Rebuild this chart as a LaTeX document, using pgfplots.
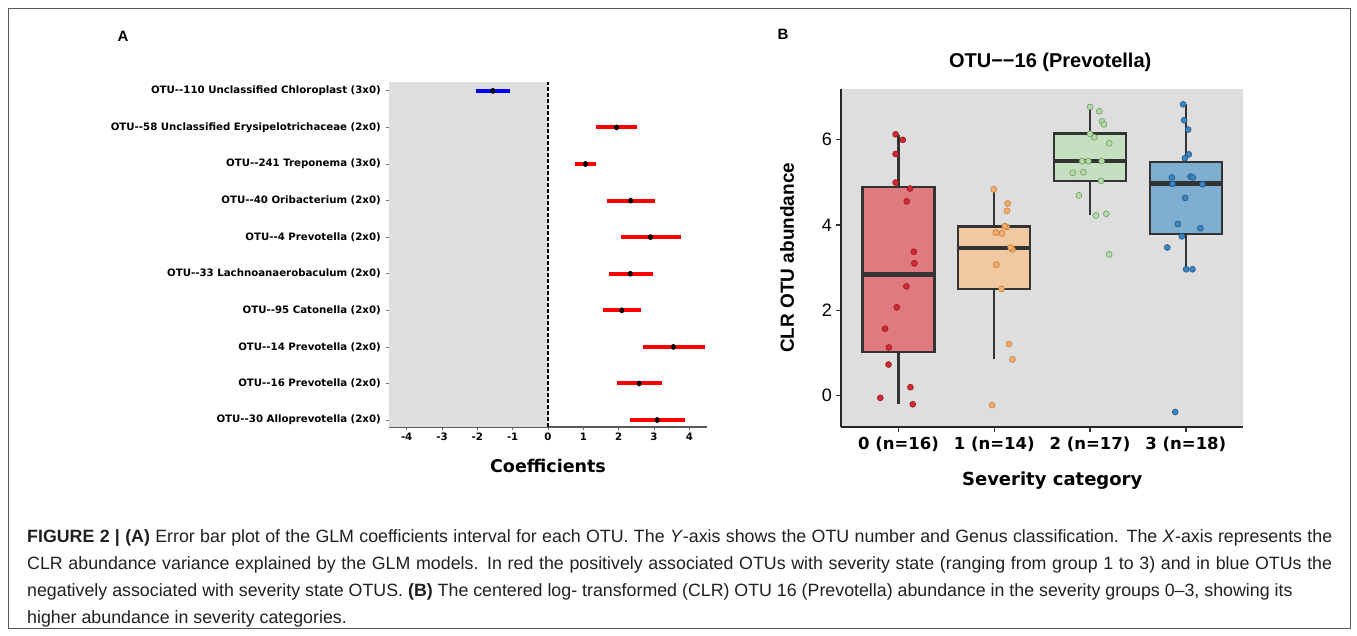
\documentclass[border=0pt]{standalone}
\usepackage{pgfplots}
\pgfplotsset{compat=1.18}
\usepgfplotslibrary{statistics}
\usepackage{pgfplotstable}
\usepackage{fontspec}
\setmainfont{Liberation Sans}
\newfontfamily\verd{DejaVu Sans}
\definecolor{panelgray}{RGB}{222,222,222}
\definecolor{boxline}{RGB}{51,51,51}
\definecolor{redbox}{RGB}{224,122,126}
\definecolor{orbox}{RGB}{240,201,161}
\definecolor{grbox}{RGB}{199,223,193}
\definecolor{blbox}{RGB}{127,175,208}
\definecolor{redpt}{RGB}{214,40,46}
\definecolor{redptd}{RGB}{130,25,30}
\definecolor{orpt}{RGB}{247,174,105}
\definecolor{orptd}{RGB}{185,115,55}
\definecolor{grpt}{RGB}{178,220,164}
\definecolor{grptd}{RGB}{105,145,95}
\definecolor{blpt}{RGB}{58,134,195}
\definecolor{blptd}{RGB}{28,78,125}
\definecolor{capcol}{RGB}{35,31,32}

% Panel A: GLM coefficient intervals (row index, centre, low, high)
\pgfplotstableread{
y mid lo hi
10 -1.56 -2.03 -1.08
}\blueA
\pgfplotstableread{
y mid lo hi
9 1.94 1.35 2.53
8 1.06 0.75 1.37
7 2.34 1.66 3.02
6 2.90 2.06 3.76
5 2.33 1.72 2.96
4 2.09 1.57 2.62
3 3.55 2.68 4.44
2 2.58 1.95 3.23
1 3.09 2.31 3.88
}\redA

% Panel B: jittered points
\pgfplotstableread{
x y
-0.030 6.12
0.045 5.99
-0.030 5.66
-0.030 4.99
0.120 4.85
0.086 4.55
0.160 3.37
0.166 3.10
0.083 2.56
-0.018 2.07
-0.140 1.57
-0.100 1.13
-0.104 0.73
0.125 0.20
-0.190 -0.05
0.149 -0.20
}\ptsZero
\pgfplotstableread{
x y
0.995 4.83
1.140 4.50
1.133 4.33
1.130 3.95
1.016 3.82
1.080 3.80
1.190 3.43
1.170 3.47
1.023 3.07
1.075 2.50
1.154 1.21
1.190 0.85
0.977 -0.22
1.110 3.97
}\ptsOne
\pgfplotstableread{
x y
2.000 6.76
2.097 6.66
2.125 6.42
2.146 6.35
2.000 6.13
2.045 6.05
2.200 5.91
1.917 5.49
1.982 5.49
2.122 5.49
1.820 5.22
1.930 5.23
2.114 5.03
1.883 4.69
2.062 4.22
2.170 4.26
2.200 3.31
}\ptsTwo
\pgfplotstableread{
x y
2.972 6.82
2.982 6.45
3.024 6.23
3.031 5.65
2.990 5.56
2.854 5.11
3.048 5.13
3.073 5.11
2.861 4.96
3.173 4.95
2.993 4.63
2.917 4.02
3.152 3.92
2.958 3.73
2.806 3.47
3.003 2.96
3.069 2.96
2.889 -0.38
}\ptsThree

\begin{document}
\begin{tikzpicture}[x=1pt,y=1pt]
\useasboundingbox (0pt,0pt) rectangle (1357pt,-635pt);
\draw[black!65, line width=0.9pt] (8pt,-8pt) rectangle (1350pt,-628pt);

% ---------------- Panel A ----------------
\begin{axis}[
  at={(389pt,-427pt)}, anchor=south west,
  scale only axis, width=318pt, height=345.3pt,
  xmin=-4.5, xmax=4.5, ymin=0.81, ymax=10.25,
  axis x line*=bottom, axis y line*=left,
  x axis line style={line width=1.3pt, color=black!65},
  y axis line style={draw=none},
  tick align=outside, major tick length=3pt,
  tick style={line width=0.8pt, color=black!55},
  xtick={-4,-3,-2,-1,0,1,2,3,4},
  xticklabels={-4,-3,-2,-1,0,1,2,3,4},
  ytick={1,...,10},
  yticklabels={
    OTU-{}-30 Alloprevotella (2x0),
    OTU-{}-16 Prevotella (2x0),
    OTU-{}-14 Prevotella (2x0),
    OTU-{}-95 Catonella (2x0),
    OTU-{}-33 Lachnoanaerobaculum (2x0),
    OTU-{}-4 Prevotella (2x0),
    OTU-{}-40 Oribacterium (2x0),
    OTU-{}-241 Treponema (3x0),
    OTU-{}-58 Unclassified Erysipelotrichaceae (2x0),
    OTU-{}-110 Unclassified Chloroplast (3x0)},
  ticklabel style={font=\verd\bfseries\fontsize{10.2}{12}\selectfont, text=black},
  yticklabel style={inner sep=0pt, xshift=-5pt},
  xticklabel style={inner sep=0pt, yshift=-3pt},
  xlabel={Coefficients},
  xlabel style={font=\verd\bfseries\fontsize{17.5}{20}\selectfont, at={(axis description cs:0.5,-0.113)}, anchor=center},
  clip=false,
]
\addplot[fill=panelgray, draw=none] coordinates {(-4.5,0.81) (0,0.81) (0,10.25) (-4.5,10.25)} -- cycle;
\addplot[black, line width=1.2pt, dash pattern=on 4pt off 2pt] coordinates {(0,0.81) (0,10.25)};
\addplot[draw=none, mark=none, error bars/.cd, x dir=both, x explicit, error mark=none,
  error bar style={line width=4pt, blue, line cap=butt}]
  table[x=mid, y=y, x error plus expr=\thisrow{hi}-\thisrow{mid}, x error minus expr=\thisrow{mid}-\thisrow{lo}] {\blueA};
\addplot[draw=none, mark=none, error bars/.cd, x dir=both, x explicit, error mark=none,
  error bar style={line width=4pt, red, line cap=butt}]
  table[x=mid, y=y, x error plus expr=\thisrow{hi}-\thisrow{mid}, x error minus expr=\thisrow{mid}-\thisrow{lo}] {\redA};
\addplot[only marks, mark=*, mark size=2.7pt, black, mark options={xscale=0.8}] table[x=mid, y=y] {\blueA};
\addplot[only marks, mark=*, mark size=2.7pt, black, mark options={xscale=0.8}] table[x=mid, y=y] {\redA};
\end{axis}

% ---------------- Panel B ----------------
\begin{axis}[
  at={(841pt,-426.7pt)}, anchor=south west,
  scale only axis, width=402.3pt, height=337.7pt,
  xmin=-0.6, xmax=3.6, ymin=-0.725, ymax=7.18,
  axis background/.style={fill=panelgray},
  axis x line*=bottom, axis y line*=left,
  axis line style={line width=1.8pt, color=black!85},
  tick align=outside, major tick length=5pt,
  tick style={line width=1.5pt, color=black!80},
  xtick={0,1,2,3},
  xticklabels={0 (n=16),1 (n=14),2 (n=17),3 (n=18)},
  xticklabel style={font=\verd\bfseries\fontsize{16.5}{19}\selectfont, inner sep=0pt, yshift=-5pt},
  ytick={0,2,4,6},
  yticklabel style={font=\fontsize{18}{20}\selectfont, inner sep=0pt, xshift=-4pt},
  /pgf/number format/assume math mode=true,
  xlabel={Severity category},
  xlabel style={font=\verd\bfseries\fontsize{18}{20}\selectfont, at={(axis description cs:0.525,-0.161)}, anchor=center},
  ylabel={CLR OTU abundance},
  ylabel style={font=\bfseries\fontsize{19}{22}\selectfont, at={(axis description cs:-0.134,0.5)}, anchor=center},
  title={OTU−−16 (Prevotella)},
  title style={font=\bfseries\fontsize{20}{22}\selectfont, at={(axis description cs:0.52,1.062)}, anchor=center},
  boxplot/draw direction=y,
  boxplot/box extend=0.75,
  boxplot/whisker extend=0,
  boxplot/every box/.style={draw=boxline, line width=2.3pt},
  boxplot/every whisker/.style={draw=boxline, line width=2.3pt},
  boxplot/every median/.style={draw=boxline, line width=4.5pt},
  clip=false,
]
\addplot[draw=boxline, fill=redbox, boxplot prepared={draw position=0, lower whisker=-0.19, lower quartile=1.03, median=2.84, upper quartile=4.89, upper whisker=6.10}] coordinates {};
\addplot[draw=boxline, fill=orbox, boxplot prepared={draw position=1, lower whisker=0.85, lower quartile=2.50, median=3.46, upper quartile=3.96, upper whisker=4.83}] coordinates {};
\addplot[draw=boxline, fill=grbox, boxplot prepared={draw position=2, lower whisker=4.23, lower quartile=5.03, median=5.49, upper quartile=6.14, upper whisker=6.76}] coordinates {};
\addplot[draw=boxline, fill=blbox, boxplot prepared={draw position=3, lower whisker=2.96, lower quartile=3.78, median=4.97, upper quartile=5.47, upper whisker=6.82}] coordinates {};
\addplot[only marks, mark=*, mark size=3pt, mark options={fill=redpt, draw=redptd, line width=0.5pt}] table[x=x,y=y] {\ptsZero};
\addplot[only marks, mark=*, mark size=3pt, mark options={fill=orpt, draw=orptd, line width=0.5pt}] table[x=x,y=y] {\ptsOne};
\addplot[only marks, mark=*, mark size=3pt, mark options={fill=grpt, draw=grptd, line width=0.5pt}] table[x=x,y=y] {\ptsTwo};
\addplot[only marks, mark=*, mark size=3pt, mark options={fill=blpt, draw=blptd, line width=0.5pt}] table[x=x,y=y] {\ptsThree};
\end{axis}

% panel letters
\node[font=\bfseries\fontsize{15}{17}\selectfont] at (123pt,-36pt) {A};
\node[font=\bfseries\fontsize{15}{17}\selectfont] at (783pt,-34pt) {B};

% caption
\begin{scope}[every node/.style={anchor=base west, inner sep=0pt, text=capcol, font=\fontsize{17.8}{21}\selectfont}]
\node at (27pt,-542pt) {\makebox[1305pt][s]{\textbf{FIGURE 2 | (A)} Error bar plot of the GLM coefficients interval for each OTU. The \textit{Y}-axis shows the OTU number and Genus classification. The \textit{X}-axis represents the}};
\node at (27pt,-569pt) {\makebox[1305pt][s]{CLR abundance variance explained by the GLM models. In red the positively associated OTUs with severity state (ranging from group 1 to 3) and in blue OTUs the}};
\node at (27pt,-596pt) {negatively associated with severity state OTUS. \textbf{(B)} The centered log- transformed (CLR) OTU 16 (Prevotella) abundance in the severity groups 0–3, showing its};
\node at (27pt,-623pt) {higher abundance in severity categories.};
\end{scope}
\end{tikzpicture}
\end{document}
